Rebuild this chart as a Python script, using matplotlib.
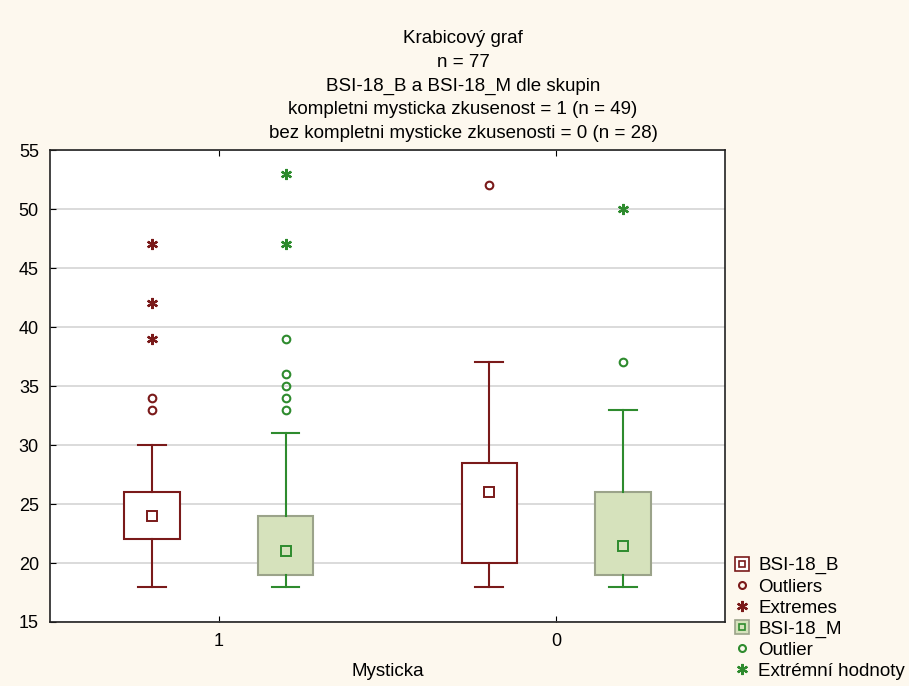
import numpy as np
import matplotlib.pyplot as plt
from matplotlib.lines import Line2D
from matplotlib.legend_handler import HandlerTuple

plt.rcParams['font.family'] = ['Liberation Sans', 'DejaVu Sans']

# skupiny a hodnoty
groups = ['1', '0']
# BSI-18_B
b_median = [24, 26]
b_q1 = [22, 20]
b_q3 = [26, 28.5]
b_low = [18, 18]
b_high = [30, 37]
b_outliers = [[33, 34], [52]]
b_extremes = [[39, 42, 47], []]
# BSI-18_M
m_median = [21, 21.4]
m_q1 = [19, 19]
m_q3 = [24, 26]
m_low = [18, 18]
m_high = [31, 33]
m_outliers = [[33, 34, 35, 36, 39], [37]]
m_extremes = [[47, 53], [50]]

bg = '#FDF8EE'
red = '#7A1A1A'
green = '#2E8B2E'
fill_m = '#D6E2BC'
edge_m = '#9BA38A'

fig = plt.figure(figsize=(9.09, 6.86), dpi=100, facecolor=bg)
ax = fig.add_axes([0.055, 0.0933, 0.7425, 0.688])
ax.set_facecolor('white')

pos = np.arange(len(groups))
off = 0.198
w = 0.165

def stats(med, q1, q3, lo, hi):
    return [dict(med=med[i], q1=q1[i], q3=q3[i], whislo=lo[i], whishi=hi[i], fliers=[])
            for i in range(len(med))]

ax.bxp(stats(b_median, b_q1, b_q3, b_low, b_high), positions=pos - off, widths=w,
       patch_artist=True, showfliers=False,
       boxprops=dict(facecolor='white', edgecolor=red, linewidth=1.5),
       whiskerprops=dict(color=red, linewidth=1.5),
       capprops=dict(color=red, linewidth=1.5),
       medianprops=dict(linestyle='none'), capwidths=w * 0.5)
ax.bxp(stats(m_median, m_q1, m_q3, m_low, m_high), positions=pos + off, widths=w,
       patch_artist=True, showfliers=False,
       boxprops=dict(facecolor=fill_m, edgecolor=edge_m, linewidth=1.5),
       whiskerprops=dict(color=green, linewidth=1.5),
       capprops=dict(color=green, linewidth=1.5),
       medianprops=dict(linestyle='none'), capwidths=w * 0.5)

# medianove body
ax.plot(pos - off, b_median, 's', ms=6.5, mfc='white', mec=red, mew=1.4, zorder=4)
ax.plot(pos + off, m_median, 's', ms=6.5, mfc=fill_m, mec=green, mew=1.4, zorder=4)

ast = (6, 2, 0)
for i in range(len(groups)):
    ax.plot([pos[i] - off] * len(b_outliers[i]), b_outliers[i], 'o', ms=5.5,
            mfc='none', mec=red, mew=1.5, zorder=4)
    ax.plot([pos[i] - off] * len(b_extremes[i]), b_extremes[i], ls='none', marker=ast,
            ms=8, mec=red, mew=1.6, zorder=4)
    ax.plot([pos[i] + off] * len(m_outliers[i]), m_outliers[i], 'o', ms=5.5,
            mfc='none', mec=green, mew=1.5, zorder=4)
    ax.plot([pos[i] + off] * len(m_extremes[i]), m_extremes[i], ls='none', marker=ast,
            ms=8, mec=green, mew=1.6, zorder=4)

ax.set_xlim(-0.5, 1.5)
ax.set_ylim(15, 55)
ax.set_yticks(np.arange(15, 56, 5))
ax.set_xticks(pos)
ax.set_xticklabels(groups)
ax.yaxis.grid(True, color='#D4D4D4', linewidth=1.2)
ax.set_axisbelow(True)
ax.tick_params(axis='y', direction='in', length=4, labelsize=13, pad=8)
ax.tick_params(axis='x', direction='in', length=4, labelsize=13, pad=8, top=True)
for s in ax.spines.values():
    s.set_color('#222222')
    s.set_linewidth(1.2)
ax.set_xlabel('Mysticka', fontsize=13.5, labelpad=9)

title_lines = ['Krabicový graf', 'n = 77', 'BSI-18_B a BSI-18_M dle skupin',
               'kompletni mysticka zkusenost = 1 (n = 49)',
               'bez kompletni mysticke zkusenosti = 0 (n = 28)']
for k, t in enumerate(title_lines):
    fig.text(463 / 909, 1 - (43 + 23.75 * k) / 686, t, ha='center', va='baseline',
             fontsize=13.5)

# legenda
def boxhandle(face, edge, inner_face, inner_edge):
    big = Line2D([], [], ls='none', marker='s', ms=10, mfc=face, mec=edge, mew=1.2)
    small = Line2D([], [], ls='none', marker='s', ms=5, mfc=inner_face, mec=inner_edge, mew=1.2)
    return (big, small)

handles = [boxhandle('white', red, 'white', red),
           Line2D([], [], ls='none', marker='o', ms=5, mfc='none', mec=red, mew=1.5),
           Line2D([], [], ls='none', marker=ast, ms=8, mec=red, mew=1.6),
           boxhandle(fill_m, edge_m, fill_m, green),
           Line2D([], [], ls='none', marker='o', ms=5, mfc='none', mec=green, mew=1.5),
           Line2D([], [], ls='none', marker=ast, ms=8, mec=green, mew=1.6)]
labels = ['BSI-18_B', 'Outliers', 'Extremes', 'BSI-18_M', 'Outlier', 'Extrémní hodnoty']
fig.legend(handles, labels, handler_map={tuple: HandlerTuple(ndivide=1, pad=0)},
           loc='lower left', bbox_to_anchor=(733 / 909, 6 / 686), frameon=False,
           fontsize=13.5, handlelength=1.0, handletextpad=0.35, labelspacing=0.21,
           borderaxespad=0, borderpad=0)

fig.savefig('out.png', dpi=100, facecolor=bg)
